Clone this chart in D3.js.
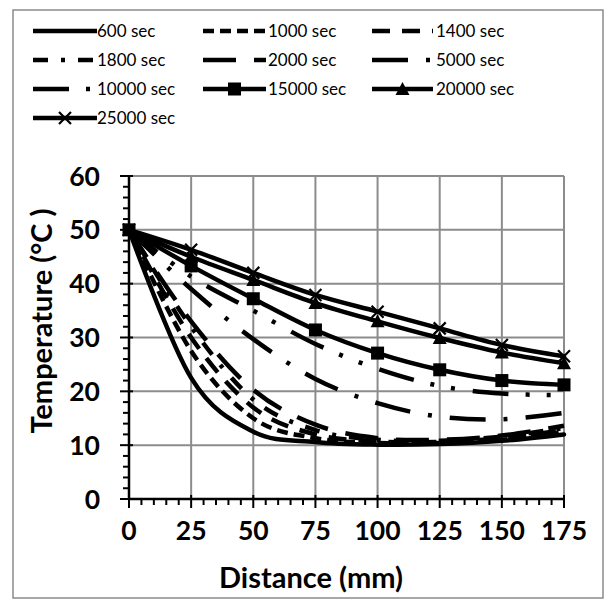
<!DOCTYPE html>
<html><head><meta charset="utf-8">
<script src="https://cdn.jsdelivr.net/npm/d3@7"></script>
<style>body{margin:0;background:#fff}</style>
</head><body>
<svg id="c" width="616" height="608"></svg>
<script>
// ---- data ----
const distances = [0, 25, 50, 75, 100, 125, 150, 175];
const seriesNames = ["600 sec","1000 sec","1400 sec","1800 sec","2000 sec","5000 sec","10000 sec","15000 sec","20000 sec","25000 sec"];
const t600   = [50, 22.5, 12.5, 10.6, 10.1, 10.2, 10.8, 12.0];
const t1000  = [50, 27.5, 15.0, 11.3, 10.4, 10.4, 11.0, 12.4];
const t1400  = [50, 30.0, 17.0, 12.0, 10.7, 10.6, 11.3, 12.8];
const t1800  = [50, 32.0, 18.5, 12.8, 11.0, 10.8, 11.6, 13.2];
const t2000  = [50, 33.0, 20.3, 13.8, 11.3, 11.0, 11.8, 13.6];
const t5000  = [50, 39.0, 29.7, 22.3, 17.8, 15.3, 14.8, 16.0];
const t10000 = [50, 41.3, 35.0, 28.8, 24.2, 21.0, 19.6, 19.3];
const t15000 = [50, 43.3, 37.2, 31.4, 27.1, 24.0, 22.0, 21.2];
const t20000 = [50, 45.0, 40.7, 36.4, 33.0, 29.9, 27.2, 25.2];
const t25000 = [50, 46.3, 42.0, 37.9, 34.8, 31.7, 28.6, 26.5];
const yTicks = [0, 10, 20, 30, 40, 50, 60];
const xTicks = [0, 25, 50, 75, 100, 125, 150, 175];
const xTitle = "Distance (mm)";
const yTitle = "Temperature (°C )";

const values = [t600,t1000,t1400,t1800,t2000,t5000,t10000,t15000,t20000,t25000];
// styles
const styles = [
  {dash:null, marker:null},
  {dash:"11,6", marker:null},
  {dash:"18,12", marker:null},
  {dash:"15,13,4,13", marker:null},
  {dash:"33,18", marker:null},
  {dash:"36,18,4,18", marker:null},
  {dash:"36,17,4,17,4,18", marker:null},
  {dash:null, marker:"square"},
  {dash:null, marker:"triangle"},
  {dash:null, marker:"x"}
];

const svg = d3.select("#c");
const font = "Lato, 'Open Sans', sans-serif";
svg.append("rect").attr("x",0).attr("y",0).attr("width",616).attr("height",608).attr("fill","#fff");
svg.append("rect").attr("x",13).attr("y",10).attr("width",590).attr("height",588)
  .attr("fill","none").attr("stroke","#8a8a8a").attr("stroke-width",1.5);

const x = d3.scaleLinear().domain([0,175]).range([129,564]);
const y = d3.scaleLinear().domain([0,60]).range([499,176]);

// gridlines
const grid = svg.append("g").attr("stroke","#8c8c8c").attr("stroke-width",2);
xTicks.filter(d=>d>0).forEach(d=>grid.append("line").attr("x1",x(d)).attr("x2",x(d)).attr("y1",y(0)).attr("y2",y(60)));
yTicks.filter(d=>d>0).forEach(d=>grid.append("line").attr("x1",x(0)).attr("x2",x(175)).attr("y1",y(d)).attr("y2",y(d)));

// axes
const ax = svg.append("g").attr("stroke","#000").attr("stroke-width",2.5);
ax.append("line").attr("x1",x(0)).attr("x2",x(0)).attr("y1",y(0)+1).attr("y2",y(60));
ax.append("line").attr("x1",x(0)-1).attr("x2",x(175)+1).attr("y1",y(0)).attr("y2",y(0));
const tk = svg.append("g").attr("stroke","#000").attr("stroke-width",2);
d3.range(0,61,2).forEach(d=>{
  const major = d%10===0;
  tk.append("line").attr("x1",x(0)-(major?9:6)).attr("x2",x(0)+(major?4:0)).attr("y1",y(d)).attr("y2",y(d));
});
d3.range(0,176,5).forEach(d=>{
  const major = d%25===0;
  tk.append("line").attr("x1",x(d)).attr("x2",x(d)).attr("y1",y(0)-(major?4:0)).attr("y2",y(0)+(major?9:6));
});

// tick labels
svg.append("g").selectAll("text").data(yTicks).join("text")
  .attr("x",100).attr("y",d=>y(d)).attr("dy","0.36em").attr("text-anchor","end")
  .attr("font-family",font).attr("font-weight","bold").attr("font-size",26.5).text(d=>d);
svg.append("g").selectAll("text").data(xTicks).join("text")
  .attr("x",d=>x(d)).attr("y",539.5).attr("text-anchor","middle")
  .attr("font-family",font).attr("font-weight","bold").attr("font-size",26.5).text(d=>d);
svg.append("text").attr("x",311).attr("y",588).attr("text-anchor","middle")
  .attr("font-family",font).attr("font-weight","bold").attr("font-size",29).text(xTitle);
svg.append("text").attr("transform","translate(52,321) rotate(-90)").attr("text-anchor","middle")
  .attr("font-family",font).attr("font-weight","bold").attr("font-size",29).text(yTitle);

// series
const line = d3.line().x(d=>x(d[0])).y(d=>y(d[1])).curve(d3.curveCardinal.tension(0));
const LW = 4.5;
function drawMarker(g, type, cx, cy){
  if(type==="square") g.append("rect").attr("x",cx-6.5).attr("y",cy-6.5).attr("width",13).attr("height",13).attr("fill","#000");
  else if(type==="triangle") g.append("path").attr("d",`M${cx},${cy-7}L${cx+7},${cy+6}L${cx-7},${cy+6}Z`).attr("fill","#000");
  else if(type==="x") g.append("path").attr("d",`M${cx-6},${cy-6}L${cx+6},${cy+6}M${cx-6},${cy+6}L${cx+6},${cy-6}`).attr("stroke","#000").attr("stroke-width",2.2);
}
const sg = svg.append("g");
values.forEach((vals,i)=>{
  const pts = distances.map((d,j)=>[d, vals[j]]);
  const st = styles[i];
  sg.append("path").attr("d",line(pts)).attr("fill","none").attr("stroke","#000")
    .attr("stroke-width",LW).attr("stroke-dasharray",st.dash).attr("stroke-linecap",st.dash?"butt":"round");
  if(st.marker) pts.forEach(p=>drawMarker(sg, st.marker, x(p[0]), y(p[1])));
});

// legend
const cols = [[33,97,97],[203,266,268],[372,433,436]];
const rows = [31,60,89,118];
const lg = svg.append("g");
seriesNames.forEach((name,i)=>{
  const c = cols[i%3], r = rows[Math.floor(i/3)];
  const st = styles[i];
  lg.append("line").attr("x1",c[0]).attr("x2",c[1]).attr("y1",r).attr("y2",r)
    .attr("stroke","#000").attr("stroke-width",LW).attr("stroke-dasharray",st.dash);
  if(st.marker) drawMarker(lg, st.marker, (c[0]+c[1])/2, r);
  lg.append("text").attr("x",c[2]).attr("y",r).attr("dy","0.35em").attr("font-family",font)
    .attr("font-size",17).text(name);
});
</script>
</body></html>
